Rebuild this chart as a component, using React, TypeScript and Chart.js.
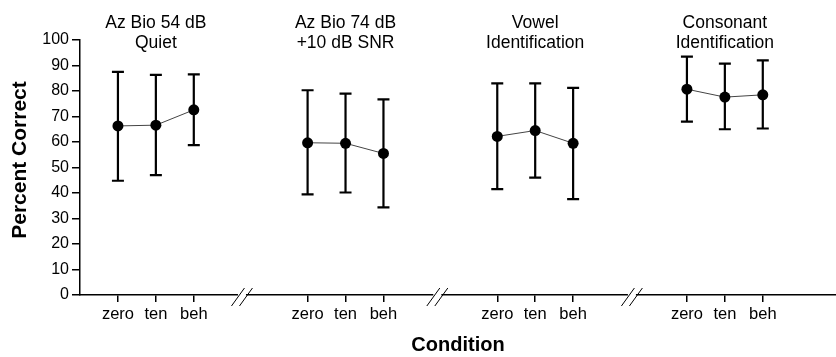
import React, { useEffect, useRef } from "react";
import { Chart, registerables } from "chart.js";

Chart.register(...registerables);

const FONT = '"Liberation Sans", Arial, Helvetica, sans-serif';

// ---- data ----
const groupTitles: string[][] = [
  ["Az Bio 54 dB", "Quiet"],
  ["Az Bio 74 dB", "+10 dB SNR"],
  ["Vowel", "Identification"],
  ["Consonant", "Identification"],
];
const conditions = ["zero", "ten", "beh"];
const groupPositions: number[][] = [
  [1, 2, 3],
  [6, 7, 8],
  [11, 12, 13],
  [16, 17, 18],
];
const means: number[][] = [
  [66.3, 66.6, 72.6],
  [59.7, 59.5, 55.5],
  [62.2, 64.5, 59.5],
  [80.7, 77.6, 78.5],
];
const upperBars: number[][] = [
  [87.5, 86.3, 86.5],
  [80.3, 79.0, 76.7],
  [83.0, 83.0, 81.2],
  [93.5, 90.7, 92.0],
];
const lowerBars: number[][] = [
  [44.8, 47.0, 58.8],
  [39.5, 40.2, 34.4],
  [41.5, 46.0, 37.6],
  [68.0, 65.0, 65.3],
];
const yTickValues = [0, 10, 20, 30, 40, 50, 60, 70, 80, 90, 100];
const breakValues = [4.27, 9.42, 14.55];

const allPositions = groupPositions.flat();
const labelFor = (v: number) => {
  const idx = allPositions.indexOf(Math.round(v));
  return idx >= 0 ? conditions[idx % 3] : "";
};

const overlayPlugin = {
  id: "overlay",
  beforeDatasetsDraw(chart: any) {
    const ctx = chart.ctx;
    const xs = chart.scales.x;
    const ys = chart.scales.y;
    ctx.save();
    ctx.strokeStyle = "#000";
    ctx.lineWidth = 2.2;
    groupPositions.forEach((g, gi) => {
      g.forEach((pos, i) => {
        const px = xs.getPixelForValue(pos);
        const top = ys.getPixelForValue(upperBars[gi][i]);
        const bot = ys.getPixelForValue(lowerBars[gi][i]);
        ctx.beginPath();
        ctx.moveTo(px, top);
        ctx.lineTo(px, bot);
        ctx.moveTo(px - 6, top);
        ctx.lineTo(px + 6, top);
        ctx.moveTo(px - 6, bot);
        ctx.lineTo(px + 6, bot);
        ctx.stroke();
      });
    });
    ctx.restore();
  },
  afterDraw(chart: any) {
    const ctx = chart.ctx;
    const xs = chart.scales.x;
    const axisY = chart.chartArea.bottom;
    ctx.save();
    // group titles
    ctx.fillStyle = "#000";
    ctx.font = `17.5px ${FONT}`;
    ctx.textAlign = "center";
    ctx.textBaseline = "middle";
    groupTitles.forEach((lines, gi) => {
      const px = xs.getPixelForValue(groupPositions[gi][1]);
      lines.forEach((t, li) => ctx.fillText(t, px, 23 + li * 20));
    });
    // y axis title
    ctx.save();
    ctx.translate(20, 160);
    ctx.rotate(-Math.PI / 2);
    ctx.font = `bold 21px ${FONT}`;
    ctx.fillText("Percent Correct", 0, 0);
    ctx.restore();
    // axis breaks
    breakValues.forEach((v) => {
      const c = xs.getPixelForValue(v);
      ctx.fillStyle = "#fff";
      ctx.fillRect(c - 4, axisY - 2, 8, 4);
      ctx.strokeStyle = "#000";
      ctx.lineWidth = 1;
      ctx.beginPath();
      ctx.moveTo(c - 10.5, axisY + 11);
      ctx.lineTo(c + 2.5, axisY - 7);
      ctx.moveTo(c - 2.5, axisY + 11);
      ctx.lineTo(c + 10.5, axisY - 7);
      ctx.stroke();
    });
    ctx.restore();
  },
};

export default function App() {
  const ref = useRef<HTMLCanvasElement | null>(null);
  useEffect(() => {
    if (!ref.current) return;
    const chart = new Chart(ref.current, {
      type: "line",
      data: {
        datasets: groupPositions.map((g, gi) => ({
          data: g.map((x, i) => ({ x, y: means[gi][i] })),
          borderColor: "#444",
          borderWidth: 1,
          pointRadius: 5.5,
          pointHoverRadius: 5.5,
          pointBackgroundColor: "#000",
          pointBorderColor: "#000",
          pointBorderWidth: 0,
          fill: false,
          tension: 0,
        })),
      },
      options: {
        responsive: false,
        animation: false,
        events: [],
        layout: { autoPadding: false, padding: { left: 9, top: 40, right: 0, bottom: 0 } },
        plugins: { legend: { display: false }, tooltip: { enabled: false } },
        scales: {
          x: {
            type: "linear",
            min: 0,
            max: 19.93,
            afterBuildTicks: (scale: any) => {
              scale.ticks = allPositions.map((v) => ({ value: v }));
            },
            afterFit: (scale: any) => {
              scale.height = 62;
            },
            ticks: {
              autoSkip: false,
              maxRotation: 0,
              padding: 3,
              color: "#000",
              font: { family: FONT, size: 16.5 },
              callback: (v: any) => labelFor(Number(v)),
            },
            grid: {
              drawOnChartArea: false,
              drawTicks: true,
              tickLength: 7,
              color: "#000",
              lineWidth: 1.5,
            },
            border: { display: true, color: "#000", width: 1.5 },
            title: {
              display: true,
              text: "Condition",
              color: "#000",
              font: { family: FONT, size: 20, weight: "bold" },
              padding: { top: 0, bottom: 0 },
            },
          },
          y: {
            min: 0,
            max: 100,
            afterBuildTicks: (scale: any) => {
              scale.ticks = yTickValues.map((v) => ({ value: v }));
            },
            afterFit: (scale: any) => {
              scale.width = 71;
            },
            ticks: {
              padding: 3,
              color: "#000",
              font: { family: FONT, size: 16 },
            },
            grid: {
              drawOnChartArea: false,
              drawTicks: true,
              tickLength: 8,
              color: "#000",
              lineWidth: 1.5,
            },
            border: { display: true, color: "#000", width: 1.5 },
            title: { display: false },
          },
        },
      },
      plugins: [overlayPlugin],
    } as any);
    return () => chart.destroy();
  }, []);
  return (
    <div style={{ position: "absolute", left: 0, top: 0, width: 836, height: 357, background: "#fff" }}>
      <canvas ref={ref} width={836} height={357} />
    </div>
  );
}
